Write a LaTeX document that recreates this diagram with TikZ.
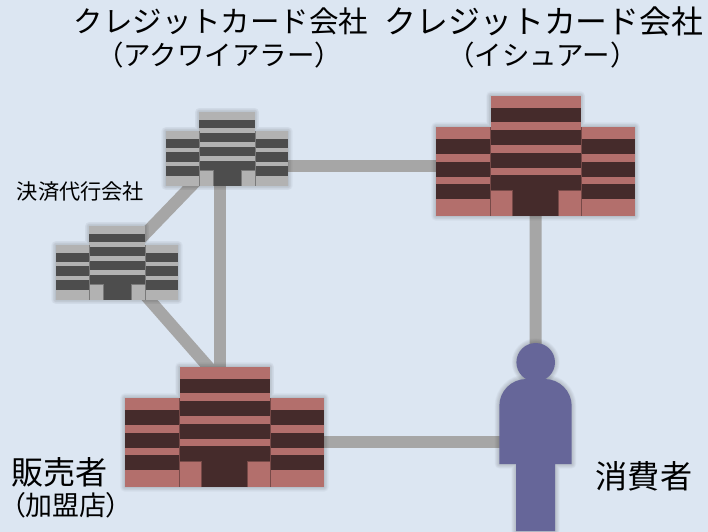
\documentclass[tikz,border=0pt]{standalone}
\usepackage{fontspec}
\setmainfont{Noto Sans CJK JP}
\definecolor{sheetblue}{HTML}{DCE6F2}
\definecolor{linkgray}{HTML}{A6A6A6}
\definecolor{brickpink}{HTML}{B36F6C}
\definecolor{brickdark}{HTML}{452B2B}
\definecolor{ashlight}{HTML}{B2B2B2}
\definecolor{ashdark}{HTML}{4D4D4D}
\definecolor{personblue}{HTML}{666699}
\tikzset{
	link/.style={line width=9pt,color=linkgray},
	glow/.style={color=black,opacity=0.025,line join=round},
	caption/.style={inner sep=0pt,align=center,text=black},
	pics/building/.style n args={2}{code={
		% soft edge round the outline
		\foreach \g in {1,2,...,7} {
			\draw[glow,line width=\g pt] (-45,-60) -- (45,-60) -- (45,-29) -- (99.5,-29) -- (99.5,60) -- (-99.5,60) -- (-99.5,-29) -- (-45,-29) -- cycle;
		}
		\fill[#2] (-45,-60) rectangle (45,60);
		\fill[#2] (-99.5,-29) rectangle (99.5,60);
		% tower floors
		\foreach \ya/\yb in {-60/-48,-34/-26,-11/-3.5,12/19} {
			\fill[#1] (-45,\ya) rectangle (45,\yb);
		}
		% wing floors
		\foreach \ya/\yb in {-29/-17,-1.7/5.7,21/28.3,43.3/60} {
			\fill[#1] (-99.5,\ya) rectangle (-46,\yb);
			\fill[#1] (46,\ya) rectangle (99.5,\yb);
		}
		% entrance
		\fill[#1] (-45,34) rectangle (-23,60);
		\fill[#1] (23,34) rectangle (45,60);
		\draw[#2!55!#1,line width=0.4pt] (-45.5,-29) -- (-45.5,60);
		\draw[#2!55!#1,line width=0.4pt] (45.5,-29) -- (45.5,60);
		\draw[#2!55!#1,line width=0.4pt] (-23,60) -- (-23,34) -- (-45,34);
		\draw[#2!55!#1,line width=0.4pt] (23,60) -- (23,34) -- (45,34);
	}}
}
\begin{document}
\begin{tikzpicture}[x=0.75pt,y=-0.75pt,line cap=butt,line join=miter]
	\fill[sheetblue] (0,0) rectangle (708,532);
	\useasboundingbox (0,0) rectangle (708,532);
	% centres of the buildings and the person
	\coordinate (acquirer) at (227,149);
	\coordinate (gateway) at (117,263);
	\coordinate (issuer) at (535.5,156);
	\coordinate (seller) at (224.5,427);
	\coordinate (consumer) at (535.7,440);
	% where the straight links meet them
	\coordinate (acquirertop) at (220,149);
	\coordinate (acquirerside) at (227,166);
	\coordinate (issuerside) at (535.5,166);
	\coordinate (sellertop) at (220,400);
	\coordinate (sellerside) at (224.5,442);
	\coordinate (sellerroof) at (219,379);
	\coordinate (consumerside) at (535.7,442);

	\draw[link] (gateway) -- (acquirer);
	\draw[link] (gateway) -- (sellerroof);
	\draw[link] (acquirertop) -- (sellertop);
	\draw[link] (acquirerside) -- (issuerside);
	\draw[link] (issuer) -- (consumer);
	\draw[link] (sellerside) -- (consumerside);

	\pic[scale=0.613] at (acquirer) {building={ashlight}{ashdark}};
	\pic[scale=0.613] at (gateway) {building={ashlight}{ashdark}};
	\pic at (issuer) {building={brickpink}{brickdark}};
	\pic at (seller) {building={brickpink}{brickdark}};

	% person
	\foreach \g in {1,2,...,7} {
		\draw[glow,line width=\g pt] (516,531) -- (516,464) -- (499.3,464) -- (499.3,406) arc[start angle=180,end angle=270,radius=27] -- (544.7,379) arc[start angle=270,end angle=360,radius=27] -- (571.7,464) -- (555,464) -- (555,531) -- cycle;
		\draw[glow,line width=\g pt] (535.7,362.3) circle[radius=19.3];
	}
	\fill[personblue] (516,531) -- (516,464) -- (499.3,464) -- (499.3,406) arc[start angle=180,end angle=270,radius=27] -- (544.7,379) arc[start angle=270,end angle=360,radius=27] -- (571.7,464) -- (555,464) -- (555,531) -- cycle;
	\fill[personblue] (535.7,362.3) circle[radius=19.3];

	\node[caption,font=\fontsize{22.1}{26}\selectfont] (acquirertitle) at (221,21) {クレジットカード会社};
	\node[caption,font=\fontsize{20.6}{24}\selectfont] (acquirernote) at (219,55) {（アクワイアラー）};
	\node[caption,font=\fontsize{23.9}{28}\selectfont] (issuertitle) at (544,21) {クレジットカード会社};
	\node[caption,font=\fontsize{20.6}{24}\selectfont] (issuernote) at (542.5,55) {（イシュアー）};
	\node[caption,font=\fontsize{15.9}{20}\selectfont] (gatewaytitle) at (80.5,192) {決済代行会社};
	\node[caption,font=\fontsize{24.1}{28}\selectfont] (sellertitle) at (59.5,472) {販売者};
	\node[caption,font=\fontsize{20.2}{24}\selectfont\addfontfeatures{RawFeature=+palt}] (sellernote) at (66,505) {（加盟店）};
	\node[caption,font=\fontsize{24.1}{28}\selectfont] (consumertitle) at (644,476) {消費者};
\end{tikzpicture}
\end{document}
